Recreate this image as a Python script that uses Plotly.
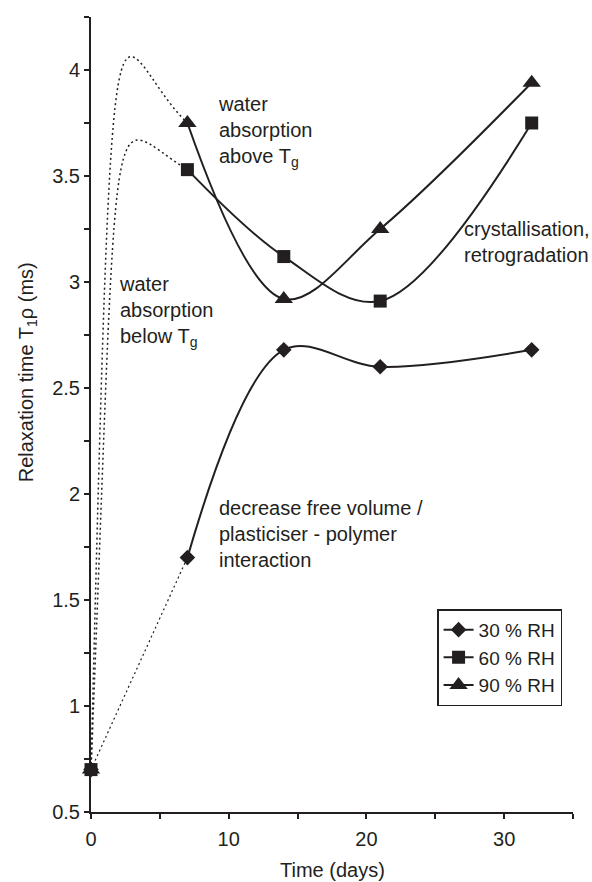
import plotly.graph_objects as go

# Storage time (days) and relaxation time T1rho (ms) for each relative humidity
days = [0, 7, 14, 21, 32]
rh30 = [0.70, 1.70, 2.68, 2.60, 2.68]
rh60 = [0.70, 3.53, 3.12, 2.91, 3.75]
rh90 = [0.70, 3.75, 2.92, 3.25, 3.94]
series_names = ["30 % RH", "60 % RH", "90 % RH"]

x_ticks = [0, 10, 20, 30]
y_ticks = [0.5, 1, 1.5, 2, 2.5, 3, 3.5, 4]

INK = "#231f20"
FONT = "Liberation Sans, Arial, Helvetica, sans-serif"
FS = 20

fig = go.Figure()

# Initial uptake (day 0 -> day 7): drawn as dotted connectors.
# 30 % RH is a straight dotted segment; 60/90 % RH overshoot (cubic Bezier,
# control points expressed as fractions of the segment span).
fig.add_trace(go.Scatter(
    x=days[:2], y=rh30[:2], mode="lines", showlegend=False, hoverinfo="skip",
    line=dict(color=INK, width=1.2, dash="2px,3px"),
))

bend = {  # (c1x, c1y, c2x, c2y) as fractions of (dx, dy)
    "60": (0.301, 1.208, 0.146, 1.083),
    "90": (0.238, 1.399, 0.207, 1.113),
}


def bezier_path(xs, ys, f):
    x0, x3 = xs[0], xs[1]
    y0, y3 = ys[0], ys[1]
    dx, dy = x3 - x0, y3 - y0
    c1 = (x0 + f[0] * dx, y0 + f[1] * dy)
    c2 = (x0 + f[2] * dx, y0 + f[3] * dy)
    return f"M {x0},{y0} C {c1[0]},{c1[1]} {c2[0]},{c2[1]} {x3},{y3}"


for key, ys in (("60", rh60), ("90", rh90)):
    fig.add_shape(
        type="path", xref="x", yref="y", layer="below",
        path=bezier_path(days, ys, bend[key]),
        line=dict(color=INK, width=1.5, dash="2px,3px"),
    )

# Solid smoothed curves from day 7 onwards
symbols = ["diamond", "square", "triangle-up"]
sizes = [12, 13, 16]
for name, ys, sym, sz in zip(series_names, (rh30, rh60, rh90), symbols, sizes):
    fig.add_trace(go.Scatter(
        x=days[1:], y=ys[1:], mode="lines+markers", name=name,
        line=dict(color=INK, width=2, shape="spline", smoothing=1),
        marker=dict(symbol=sym, size=sz, color=INK),
    ))

# Day-0 starting values (overlapping markers)
for ys, sym, sz in ((rh30, "diamond", 12), (rh90, "triangle-up", 16), (rh60, "square", 13)):
    fig.add_trace(go.Scatter(
        x=days[:1], y=ys[:1], mode="markers", showlegend=False, hoverinfo="skip",
        marker=dict(symbol=sym, size=sz, color=INK), cliponaxis=False,
    ))

notes = [
    (9.08, 3.71, "water<br>absorption<br>above T<sub>g</sub>"),
    (1.89, 2.86, "water<br>absorption<br>below T<sub>g</sub>"),
    (26.94, 3.19, "crystallisation,<br>retrogradation"),
    (9.15, 1.81, "decrease free volume /<br>plasticiser - polymer<br>interaction"),
]
for nx, ny, txt in notes:
    fig.add_annotation(
        x=nx, y=ny, xref="x", yref="y", text=txt, showarrow=False,
        xanchor="left", yanchor="middle", align="left",
        font=dict(family=FONT, size=FS, color=INK),
    )

fig.add_annotation(
    x=-0.133, y=0.553, xref="paper", yref="paper", textangle=-90,
    text="Relaxation time T<sub>1</sub>ρ (ms)", showarrow=False,
    xanchor="center", yanchor="middle",
    font=dict(family=FONT, size=FS, color=INK),
)
fig.add_annotation(
    x=0.5, y=-0.073, xref="paper", yref="paper", text="Time (days)",
    showarrow=False, xanchor="center", yanchor="middle",
    font=dict(family=FONT, size=FS, color=INK),
)

axis_common = dict(
    showgrid=False, zeroline=False, showline=True, linecolor=INK, linewidth=2,
    ticks="outside", ticklen=5, tickwidth=2, tickcolor=INK,
    tickfont=dict(family=FONT, size=FS, color=INK),
)
fig.update_xaxes(
    range=[0, 35], tickvals=x_ticks, ticktext=[str(v) for v in x_ticks],
    minor=dict(dtick=5, ticks="outside", ticklen=5, tickwidth=2, tickcolor=INK),
    ticklabelstandoff=3,
    **axis_common,
)
fig.update_yaxes(
    range=[0.5, 4.25], tickvals=y_ticks, ticktext=[f"{v:g}" for v in y_ticks],
    minor=dict(dtick=0.25, ticks="outside", ticklen=5, tickwidth=2, tickcolor=INK),
    **axis_common,
)

fig.update_layout(
    width=592, height=882,
    margin=dict(l=91, r=19, t=17, b=70),
    paper_bgcolor="white", plot_bgcolor="white",
    showlegend=True,
    legend=dict(
        x=0.718, y=0.255, xanchor="left", yanchor="top",
        bordercolor=INK, borderwidth=1.5, bgcolor="white",
        font=dict(family=FONT, size=19, color=INK),
        itemwidth=30, tracegroupgap=0,
    ),
    font=dict(family=FONT, size=FS, color=INK),
)

fig.write_html("out.html")
